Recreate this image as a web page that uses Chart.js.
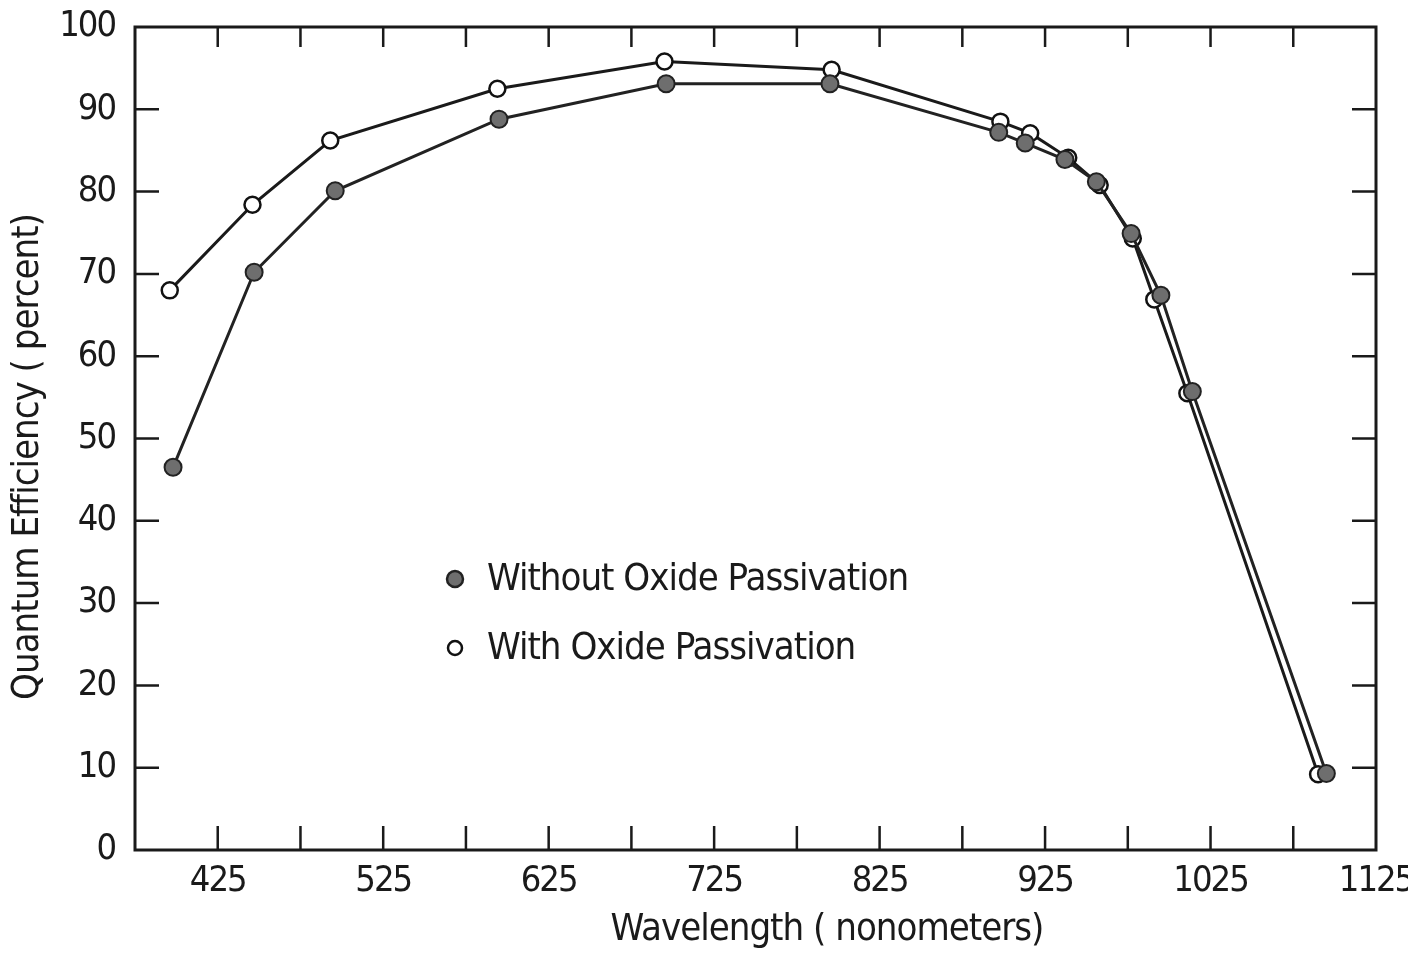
<!DOCTYPE html>
<html>
<head>
<meta charset="utf-8">
<script src="https://cdn.jsdelivr.net/npm/chart.js@4.4.0/dist/chart.umd.min.js"></script>
<style>
body { margin: 0; background: #fff; }
#wrap { width: 1408px; height: 954px; }
</style>
</head>
<body>
<div id="wrap"><canvas id="qeCanvas" width="1408" height="954"></canvas></div>
<script>
// wavelength (nm) and quantum efficiency (%)
var wlWithout = [398, 447, 496, 595, 696, 795, 897, 913, 937, 956, 977, 995, 1014, 1095];
var qeWithout = [46.5, 70.2, 80.1, 88.8, 93.1, 93.1, 87.2, 85.9, 83.9, 81.2, 74.9, 67.4, 55.7, 9.3];

var wlWith = [396, 446, 493, 594, 695, 796, 898, 916, 939, 958, 978, 991, 1011, 1090];
var qeWith = [68.0, 78.4, 86.2, 92.5, 95.8, 94.8, 88.5, 87.1, 84.1, 80.8, 74.3, 66.9, 55.5, 9.2];

var xLabelTicks = [425, 525, 625, 725, 825, 925, 1025, 1125];

var FONT = '"DejaVu Sans Condensed", "DejaVu Sans", sans-serif';
var INK = '#1a1a1a';

function toPoints(xs, ys) {
	var pts = [];
	for (var i = 0; i < xs.length; i++) {
		pts.push({ x: xs[i], y: ys[i] });
	}
	return pts;
}

// frame, inward tick marks, axis titles and legend
var framePlugin = {
	id: 'frame',
	beforeLayout: function(chart) {
		chart.ctx.letterSpacing = '-2px';
	},
	beforeDraw: function(chart) {
		chart.ctx.letterSpacing = '-2px';
	},
	beforeDatasetsDraw: function(chart) {
		var ctx = chart.ctx;
		var a = chart.chartArea;
		var xs = chart.scales.x, ys = chart.scales.y;
		var len = 24;
		ctx.save();
		ctx.strokeStyle = INK;
		ctx.lineWidth = 3;
		ctx.strokeRect(a.left, a.top, a.right - a.left, a.bottom - a.top);
		ctx.lineWidth = 2.5;
		ctx.beginPath();
		for (var v = 425; v < 1125; v += 50) {
			var px = xs.getPixelForValue(v);
			ctx.moveTo(px, a.bottom); ctx.lineTo(px, a.bottom - len);
			ctx.moveTo(px, a.top); ctx.lineTo(px, a.top + len - 4);
		}
		for (var q = 10; q < 100; q += 10) {
			var py = ys.getPixelForValue(q);
			ctx.moveTo(a.left, py); ctx.lineTo(a.left + len, py);
			ctx.moveTo(a.right, py); ctx.lineTo(a.right - len, py);
		}
		ctx.stroke();
		ctx.restore();
	},
	afterDraw: function(chart) {
		var ctx = chart.ctx;
		var a = chart.chartArea;
		ctx.save();
		ctx.letterSpacing = '-1px';
		ctx.fillStyle = INK;
		ctx.font = '38px ' + FONT;
		ctx.textAlign = 'center';
		ctx.textBaseline = 'middle';
		ctx.fillText('Wavelength ( nonometers)', a.left + 692, 930);
		ctx.translate(28, a.top + 430);
		ctx.rotate(-Math.PI / 2);
		ctx.fillText('Quantum Efficiency ( percent)', 0, 0);
		ctx.restore();

		// legend
		var rows = [579, 648];
		ctx.save();
		ctx.letterSpacing = '-1px';
		ctx.font = '38px ' + FONT;
		ctx.textAlign = 'left';
		ctx.textBaseline = 'middle';
		chart.data.datasets.forEach(function(ds, i) {
			ctx.beginPath();
			ctx.arc(455, rows[i], i == 0 ? 8 : 7, 0, Math.PI * 2);
			ctx.fillStyle = ds.pointBackgroundColor;
			ctx.fill();
			ctx.lineWidth = 2.5;
			ctx.strokeStyle = ds.pointBorderColor;
			ctx.stroke();
			ctx.fillStyle = INK;
			ctx.fillText(ds.label, 487, rows[i] + 1);
		});
		ctx.restore();
	}
};

var ctx = document.getElementById('qeCanvas').getContext('2d');
var chart = new Chart(ctx, {
	type: 'scatter',
	data: {
		datasets: [
			{
				label: 'Without Oxide Passivation',
				data: toPoints(wlWithout, qeWithout),
				showLine: true,
				borderColor: '#222222',
				borderWidth: 3,
				pointRadius: 8.5,
				pointBackgroundColor: '#6e6e6e',
				pointBorderColor: '#222222',
				pointBorderWidth: 2
			},
			{
				label: 'With Oxide Passivation',
				data: toPoints(wlWith, qeWith),
				showLine: true,
				borderColor: '#1a1a1a',
				borderWidth: 3,
				pointRadius: 8,
				pointBackgroundColor: '#ffffff',
				pointBorderColor: '#111111',
				pointBorderWidth: 2.5
			}
		]
	},
	options: {
		responsive: false,
		animation: false,
		layout: { padding: { top: 27, right: 32, left: 0, bottom: 0 } },
		plugins: {
			legend: { display: false },
			tooltip: { enabled: false }
		},
		scales: {
			x: {
				type: 'linear',
				min: 375,
				max: 1125,
				grid: { display: false, drawTicks: false },
				border: { display: false },
				ticks: {
					stepSize: 50,
					autoSkip: false,
					maxRotation: 0,
					padding: 14,
					color: INK,
					font: { family: FONT, size: 36, lineHeight: 1 },
					callback: function(v) { return xLabelTicks.indexOf(v) >= 0 ? String(v) : ''; }
				},
				afterFit: function(scale) {
					scale.height = 104;
					scale.paddingLeft = 0;
					scale.paddingRight = 0;
				}
			},
			y: {
				min: 0,
				max: 100,
				grid: { display: false, drawTicks: false },
				border: { display: false },
				ticks: {
					stepSize: 10,
					padding: 20,
					color: INK,
					font: { family: FONT, size: 36, lineHeight: 1 }
				},
				afterFit: function(scale) {
					scale.width = 135;
					scale.paddingTop = 0;
					scale.paddingBottom = 0;
				}
			}
		}
	},
	plugins: [framePlugin]
});
</script>
</body>
</html>
